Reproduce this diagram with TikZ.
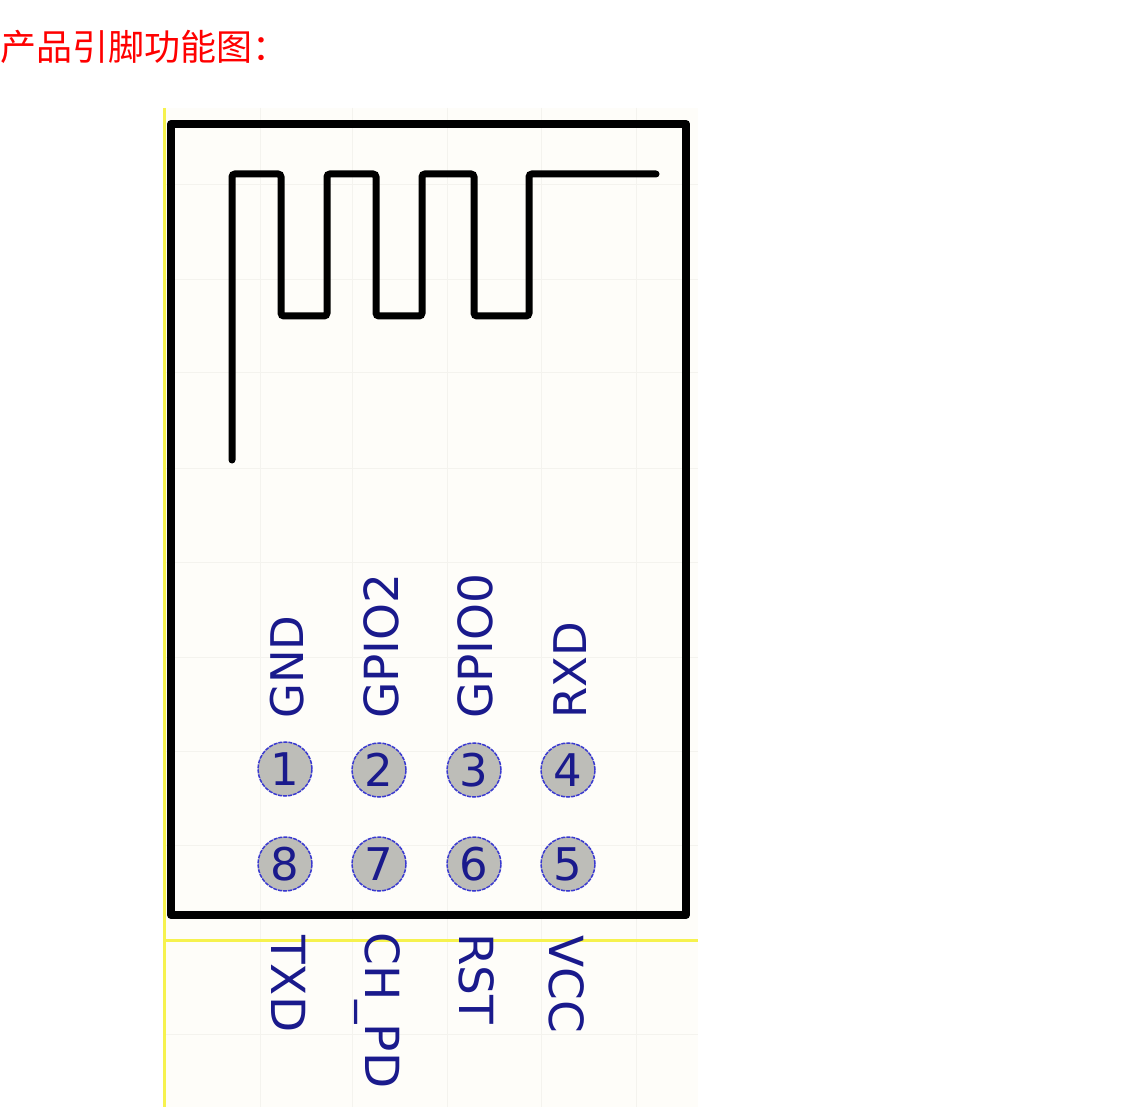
\documentclass[tikz,border=0pt]{standalone}
\usepackage{fontspec}
\setmainfont{DejaVu Sans}
\newfontfamily\cjk{Noto Sans CJK SC}
\definecolor{panel}{HTML}{FEFDF9}
\definecolor{gridc}{HTML}{F4F3EE}
\definecolor{yel}{HTML}{F6F24E}
\definecolor{pinfill}{HTML}{BDBDB8}
\definecolor{pinline}{HTML}{3A3AD0}
\definecolor{labc}{HTML}{1A1A8C}
\tikzset{
  pinnode/.style={circle,draw=pinline,fill=pinfill,line width=1.5pt,dash pattern=on 4pt off 1pt,minimum size=54pt,inner sep=0pt,text=labc,font=\fontsize{45}{45}\selectfont},
  uplab/.style={rotate=90,anchor=base west,inner sep=0pt,text=labc,font=\fontsize{47}{47}\selectfont},
  downlab/.style={rotate=-90,anchor=base west,inner sep=0pt,text=labc,font=\fontsize{47}{47}\selectfont},
  gridl/.style={draw=gridc,line width=1pt},
  yell/.style={draw=yel,line width=3pt},
  blk/.style={draw=black,line width=8pt,line join=round,line cap=round},
  ant/.style={draw=black,line width=7pt,rounded corners=3pt,line cap=round}
}
\begin{document}
\begin{tikzpicture}[x=1pt,y=-1pt]
\useasboundingbox (0,0) rectangle (1125,1107);
\fill[white] (0,0) rectangle (1125,1107);
\fill[panel] (163,108) rectangle (698,1107);
\foreach \x in {260,352,447,541,636} \draw[gridl] (\x,108) -- (\x,1107);
\foreach \y in {185,280,373,468,562,657,751,845,1034} \draw[gridl] (164,\y) -- (698,\y);
\draw[yell] (164,108) -- (164,1107);
\draw[yell] (164,940) -- (698,940);
\draw[blk] (171,124) rectangle (686,915);
\draw[ant] (232,460) -- (232,174) -- (281,174) -- (281,316) -- (327,316) -- (327,174) -- (376,174) -- (376,316) -- (422,316) -- (422,174) -- (474,174) -- (474,316) -- (529,316) -- (529,174) -- (656,174);
\node[anchor=base west,inner sep=0pt,text=red,font=\cjk\fontsize{36}{36}\selectfont] (title) at (0.5,61) {产品引脚功能图：};
\node[pinnode] (p1) at (285,769) {1};
\node[pinnode] (p2) at (379,770) {2};
\node[pinnode] (p3) at (474,770) {3};
\node[pinnode] (p4) at (568,770) {4};
\node[pinnode] (p8) at (285,864) {8};
\node[pinnode] (p7) at (379,864) {7};
\node[pinnode] (p6) at (474,864) {6};
\node[pinnode] (p5) at (568,864) {5};
\node[uplab,font=\fontsize{45}{45}\selectfont] (gnd) at (303,719) {GND};
\node[uplab] (gpiob) at (398,719) {GPIO2};
\node[uplab] (gpioa) at (492,719) {GPIO0};
\node[uplab,font=\fontsize{45}{45}\selectfont] (rxd) at (586,719) {RXD};
\node[downlab] (txd) at (271,935) {TXD};
\node[downlab] (chpd) at (365,932) {CH\_PD};
\node[downlab] (rst) at (459,933) {RST};
\node[downlab] (vcc) at (549,935) {VCC};
\end{tikzpicture}
\end{document}
